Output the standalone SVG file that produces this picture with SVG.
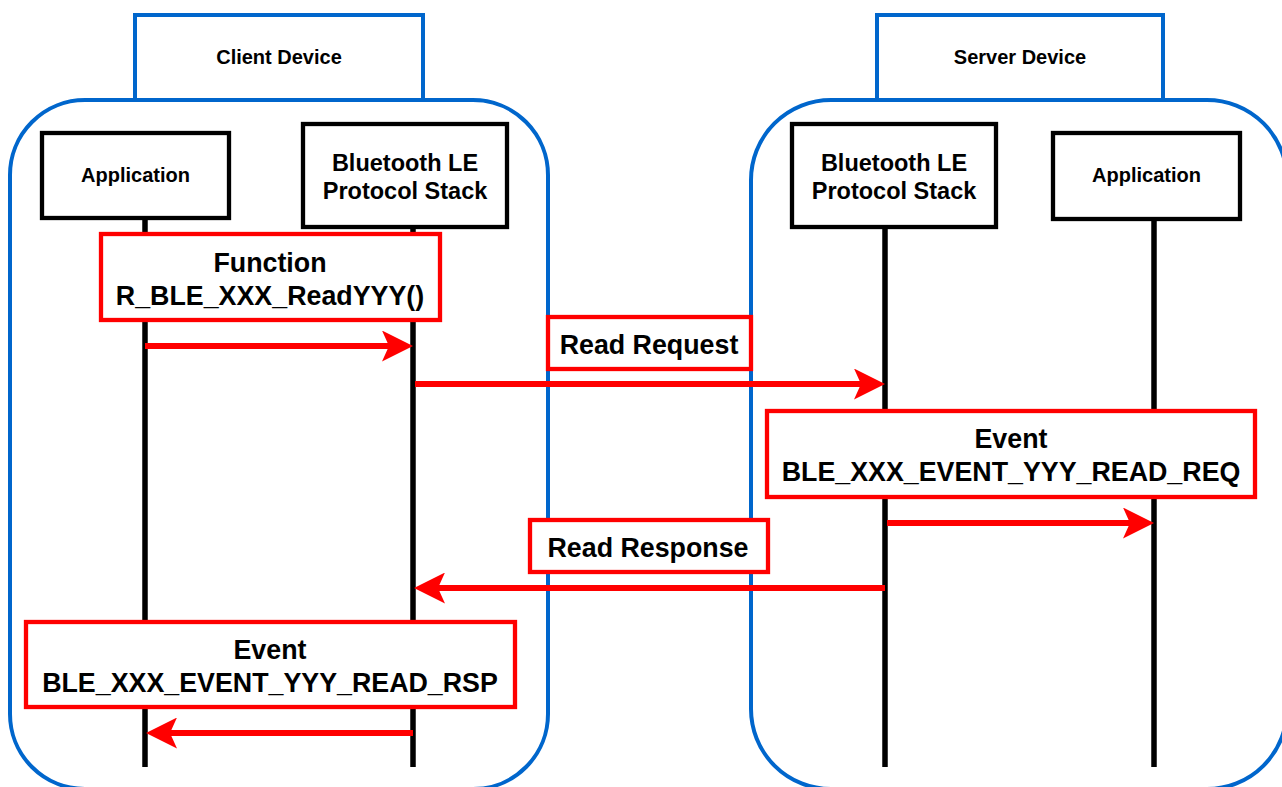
<svg xmlns="http://www.w3.org/2000/svg" width="1282" height="787" viewBox="0 0 1282 787">
<style>
.dev{fill:none;stroke:#0066CC;stroke-width:4}
.devbox{fill:#fff;stroke:#0066CC;stroke-width:4}
.obj{fill:#fff;stroke:#000;stroke-width:4.3}
.life{stroke:#000;stroke-width:5.5;fill:none}
.msg{fill:#fff;stroke:#FF0000;stroke-width:4.3}
.arr{stroke:#FF0000;stroke-width:6;fill:none}
text{font-family:"Liberation Sans",Arial,sans-serif;font-weight:bold;fill:#000;text-anchor:middle}
.s{font-size:20px}
.m{font-size:23.5px}
.b{font-size:26.8px}
</style>
<defs>
<marker id="ah" viewBox="0 0 31 31" refX="7" refY="15.5" markerWidth="31" markerHeight="31" markerUnits="userSpaceOnUse" orient="auto">
<path d="M0,0 L31,15.5 L0,31 L7,15.5 Z" fill="#FF0000"/>
</marker>
</defs>
<rect width="1282" height="787" fill="#fff"/>
<g id="client-device">
<rect class="dev" x="10" y="100" width="538" height="689" rx="75" ry="75"/>
<rect class="devbox" x="135" y="15" width="288" height="85"/>
<text class="s" x="279" y="64">Client Device</text>
</g>
<g id="server-device">
<rect class="dev" x="751" y="100" width="536" height="689" rx="80" ry="80"/>
<rect class="devbox" x="877" y="15" width="286" height="85"/>
<text class="s" x="1020" y="64">Server Device</text>
</g>
<g id="lifelines">
<line class="life" x1="145" y1="218" x2="145" y2="767"/>
<line class="life" x1="413" y1="227" x2="413" y2="767"/>
<line class="life" x1="885" y1="227" x2="885" y2="767"/>
<line class="life" x1="1154" y1="220" x2="1154" y2="767"/>
</g>
<g id="client-app">
<rect class="obj" x="42" y="133" width="187" height="85"/>
<text class="s" x="135.5" y="182">Application</text>
</g>
<g id="client-stack">
<rect class="obj" x="303" y="124" width="204" height="103"/>
<text class="m" x="405" y="171">Bluetooth LE</text>
<text class="m" x="405" y="199">Protocol Stack</text>
</g>
<g id="server-stack">
<rect class="obj" x="792" y="124" width="204" height="103"/>
<text class="m" x="894" y="171">Bluetooth LE</text>
<text class="m" x="894" y="199">Protocol Stack</text>
</g>
<g id="server-app">
<rect class="obj" x="1053" y="133" width="187" height="86"/>
<text class="s" x="1146.5" y="182">Application</text>
</g>
<g id="function-label">
<rect class="msg" x="101" y="234" width="339" height="86"/>
<text class="b" x="270" y="272">Function</text>
<text class="b" x="270" y="305">R_BLE_XXX_ReadYYY()</text>
</g>
<g id="read-request-label">
<rect class="msg" x="548" y="317" width="203" height="52"/>
<text class="b" x="649" y="354">Read Request</text>
</g>
<g id="event-req-label">
<rect class="msg" x="767" y="411" width="488" height="86"/>
<text class="b" x="1011" y="448">Event</text>
<text class="b" x="1011" y="481">BLE_XXX_EVENT_YYY_READ_REQ</text>
</g>
<g id="read-response-label">
<rect class="msg" x="530" y="520" width="238" height="52"/>
<text class="b" x="648" y="557">Read Response</text>
</g>
<g id="event-rsp-label">
<rect class="msg" x="26" y="622" width="489" height="85"/>
<text class="b" x="270" y="659">Event</text>
<text class="b" x="270" y="692">BLE_XXX_EVENT_YYY_READ_RSP</text>
</g>
<g id="connectors">
<line class="arr" x1="145" y1="346" x2="389" y2="346" marker-end="url(#ah)"/>
<line class="arr" x1="415" y1="384" x2="861" y2="384" marker-end="url(#ah)"/>
<line class="arr" x1="887" y1="523" x2="1130" y2="523" marker-end="url(#ah)"/>
<line class="arr" x1="885" y1="588" x2="438" y2="588" marker-end="url(#ah)"/>
<line class="arr" x1="413" y1="733" x2="170" y2="733" marker-end="url(#ah)"/>
</g>
</svg>
